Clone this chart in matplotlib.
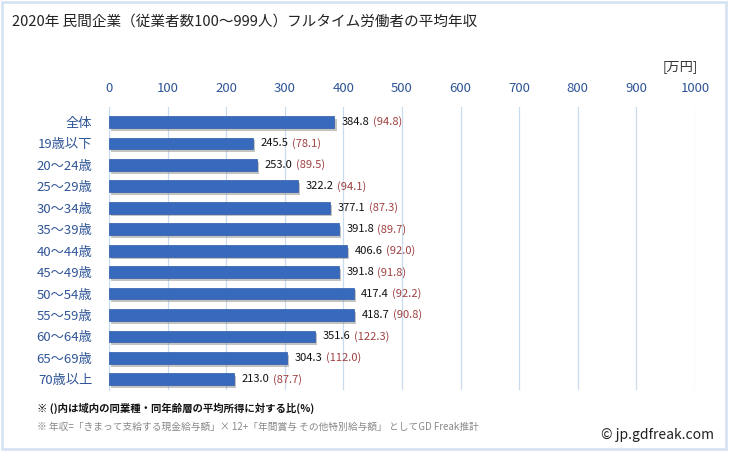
#!/usr/bin/env python3

"""2020年 民間企業（従業者数100～999人）フルタイム労働者の平均年収."""

import matplotlib.pyplot as plt
import matplotlib.patheffects as pe
from matplotlib.patches import Rectangle

plt.rcParams["font.family"] = ["Noto Sans CJK JP", "DejaVu Sans"]

ages = ["全体", "19歳以下", "20～24歳", "25～29歳", "30～34歳", "35～39歳", "40～44歳",
        "45～49歳", "50～54歳", "55～59歳", "60～64歳", "65～69歳", "70歳以上"]
income = [384.8, 245.5, 253.0, 322.2, 377.1, 391.8, 406.6, 391.8, 417.4, 418.7, 351.6, 304.3, 213.0]
ratio = [94.8, 78.1, 89.5, 94.1, 87.3, 89.7, 92.0, 91.8, 92.2, 90.8, 122.3, 112.0, 87.7]
xticks = list(range(0, 1001, 100))

W, H = 729, 451
fig = plt.figure(figsize=(W / 100, H / 100), dpi=100)
fig.patches.append(Rectangle((0.003, 0.004), 0.993, 0.992, transform=fig.transFigure,
                             fill=False, edgecolor="#d6e4f2", linewidth=2))

ax = fig.add_axes([109 / W, 1 - 390 / H, (695 - 109) / W, (390 - 107) / H])
y = range(len(ages))
ax.barh(y, income, height=0.55, color="#3769bd", edgecolor="#2d5ba8", linewidth=0.5,
        zorder=3, path_effects=[pe.SimplePatchShadow(offset=(1.5, -2), shadow_rgbFace="#888888",
                                                     alpha=0.5), pe.Normal()])
ax.set_xlim(0, 1000)
ax.set_ylim(len(ages) - 0.5, -0.7)
ax.set_xticks(xticks)
ax.xaxis.tick_top()
ax.tick_params(axis="x", length=0, pad=9, labelsize=9.5, labelcolor="#2f5597")
ax.set_yticks(list(y))
ax.set_yticklabels(ages)
ax.tick_params(axis="y", length=0, pad=12, labelsize=9.5, labelcolor="#2f5597")
ax.grid(True, axis="x", color="#c9dcef", linewidth=0.9, zorder=0)
for s in ["top", "right", "bottom"]:
    ax.spines[s].set_visible(False)
ax.spines["left"].set_color("#c9dcef")

for i, (v, r) in enumerate(zip(income, ratio)):
    ax.annotate(f"{v:.1f}", (v, i), xytext=(5.5, 0), textcoords="offset points",
                va="center", ha="left", fontsize=8, color="#111111")
    ax.annotate(f"({r:.1f})", (v, i), xytext=(28, 0), textcoords="offset points",
                va="center", ha="left", fontsize=8, color="#a04040")

fig.text(12 / W, 1 - 22 / H, "2020年 民間企業（従業者数100～999人）フルタイム労働者の平均年収",
         fontsize=10.5, va="center", ha="left", color="#222222")
fig.text(698 / W, 1 - 67 / H, "[万円]", fontsize=9.5, va="center", ha="right", color="#333333")
fig.text(37 / W, 1 - 408 / H, "※ ()内は域内の同業種・同年齢層の平均所得に対する比(%)",
         fontsize=7.5, va="center", ha="left", color="#111111", fontweight="bold")
fig.text(37 / W, 1 - 427 / H,
         "※ 年収=「きまって支給する現金給与額」× 12+「年間賞与 その他特別給与額」 としてGD Freak推計",
         fontsize=7, va="center", ha="left", color="#888888")
fig.text(714 / W, 1 - 435 / H, "© jp.gdfreak.com", fontsize=10, va="center", ha="right",
         color="#222222")

fig.savefig("out.png", dpi=100)
